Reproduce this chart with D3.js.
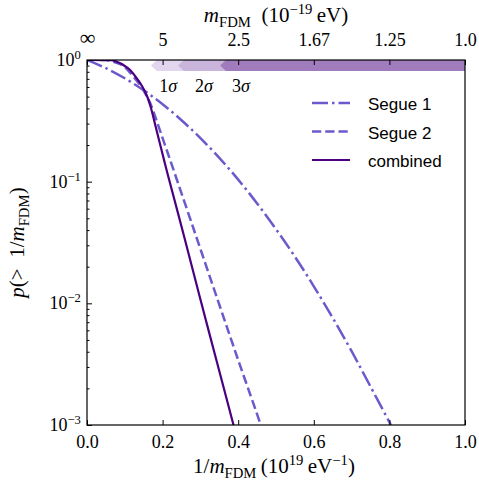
<!DOCTYPE html>
<html>
<head>
<meta charset="utf-8">
<script src="https://cdn.jsdelivr.net/npm/d3@7"></script>
<style>
  body { margin: 0; background: #fff; }
  svg { display: block; }
</style>
</head>
<body>
<svg id="chart"></svg>
<script>
// curves: x = 1/m_FDM (1e19 eV^-1), p = p(>1/m_FDM)
const combinedX = [0, 0.04, 0.069, 0.1085, 0.127, 0.1455, 0.1587, 0.1693, 0.1799, 0.1918, 0.2037, 0.2143, 0.2566, 0.2989, 0.3426, 0.3862, 0.39];
const combinedP = [1, 0.999, 0.991, 0.859, 0.739, 0.611, 0.506, 0.403, 0.298, 0.212, 0.151, 0.1125, 0.0358, 0.0111, 0.00339, 0.00104, 0.00094];

const segue2X = [0, 0.05, 0.0926, 0.119, 0.1402, 0.1561, 0.1693, 0.1812, 0.1931, 0.2063, 0.2196, 0.2817, 0.3439, 0.4008, 0.4577, 0.4616];
const segue2P = [1, 0.995, 0.910, 0.753, 0.623, 0.516, 0.427, 0.337, 0.263, 0.200, 0.152, 0.0412, 0.0111, 0.00336, 0.00104, 0.00094];

const segue1X = [0, 0.05, 0.1, 0.15, 0.2, 0.25, 0.3, 0.35, 0.4, 0.45, 0.5, 0.55, 0.6, 0.65, 0.7, 0.75, 0.804];
const segue1P = [1, 0.857, 0.708, 0.564, 0.433, 0.320, 0.228, 0.157, 0.104, 0.0662, 0.0407, 0.0242, 0.0138, 0.0076, 0.00404, 0.00207, 0.001];

const seriesNames = ["Segue 1", "Segue 2", "combined"];

// sigma bands (left edge in 1/m_FDM, extend to right edge)
const sigmaLabels = ["1\u03c3", "2\u03c3", "3\u03c3"];
const sigmaStart = [0.169, 0.241, 0.352];
const sigmaLabelX = [0.22, 0.315, 0.413];

const xTicks = [0.0, 0.2, 0.4, 0.6, 0.8, 1.0];
const topTickLabels = ["\u221e", "5", "2.5", "1.67", "1.25", "1.0"];
const yMajor = [1, 0.1, 0.01, 0.001];
const yExp = ["0", "\u22121", "\u22122", "\u22123"];

const W = 479, H = 489;
const pl = 87, pr = 465, pt = 60, pb = 425;
const serif = "'Liberation Serif', 'DejaVu Serif', serif";
const sans = "'Liberation Sans', 'DejaVu Sans', sans-serif";

const svg = d3.select("#chart").attr("width", W).attr("height", H);

const x = d3.scaleLinear().domain([0, 1]).range([pl, pr]);
const y = d3.scaleLog().domain([1e-3, 1]).range([pb, pt]);

svg.append("defs").append("clipPath").attr("id", "clip")
  .append("rect").attr("x", pl).attr("y", pt)
  .attr("width", pr - pl).attr("height", pb - pt);

// write simple math: segments {t, i (italic), s: "sub"|"sup"}
function math(sel, segs, size) {
  segs.forEach(seg => {
    const ts = sel.append("tspan").text(seg.t)
      .style("font-style", seg.i ? "italic" : "normal");
    if (seg.s === "sub") {
      ts.attr("dy", size * 0.25).style("font-size", (size * 0.7) + "px");
      sel.append("tspan").attr("dy", -size * 0.25).text("\u200a").style("font-size", "1px");
    } else if (seg.s === "sup") {
      ts.attr("dy", -size * 0.38).style("font-size", (size * 0.7) + "px");
      sel.append("tspan").attr("dy", size * 0.38).text("\u200a").style("font-size", "1px");
    } else {
      ts.style("font-size", size + "px");
    }
  });
}

// sigma arrows
const bandColors = ["#e1d6ed", "#c9b5dc", "#a07cbd"];
const bandTop = pt, bandBot = pt + 11, tip = 6;
sigmaStart.forEach((s, i) => {
  const x0 = x(s);
  const pts = [[x0, (bandTop + bandBot) / 2], [x0 + tip, bandTop], [pr, bandTop],
    [pr, bandBot], [x0 + tip, bandBot]];
  svg.append("polygon")
    .attr("points", pts.map(p => p.join(",")).join(" "))
    .attr("fill", bandColors[i]);
});

sigmaLabels.forEach((lab, i) => {
  const t = svg.append("text")
    .attr("x", x(sigmaLabelX[i]) - 11).attr("y", 92)
    .style("font-family", serif).style("font-size", "18px");
  t.append("tspan").text(lab[0]);
  t.append("tspan").text(lab[1]).style("font-style", "italic");
});

// curves
const line = d3.line().x(d => x(d[0])).y(d => y(d[1])).curve(d3.curveCatmullRom);
const series = [
  { xs: segue1X, ps: segue1P, color: "#6a5acd", dash: "16,4,2.5,4", w: 2.5 },
  { xs: segue2X, ps: segue2P, color: "#6a5acd", dash: "9.25,4", w: 2.5 },
  { xs: combinedX, ps: combinedP, color: "#4b0082", dash: null, w: 2.2 }
];
const g = svg.append("g").attr("clip-path", "url(#clip)");
series.forEach(s => {
  g.append("path")
    .datum(s.xs.map((v, i) => [v, s.ps[i]]))
    .attr("d", line)
    .attr("fill", "none")
    .attr("stroke", s.color)
    .attr("stroke-width", s.w)
    .attr("stroke-dasharray", s.dash);
});

// legend
series.forEach((s, i) => {
  const ly = 103 + i * 28.5;
  svg.append("line")
    .attr("x1", 312).attr("x2", 350).attr("y1", ly).attr("y2", ly)
    .attr("stroke", s.color).attr("stroke-width", s.w)
    .attr("stroke-dasharray", s.dash);
  svg.append("text")
    .attr("x", 368).attr("y", ly + 7)
    .style("font-family", sans).style("font-size", "17px")
    .text(seriesNames[i]);
});

// frame
svg.append("rect")
  .attr("x", pl).attr("y", pt)
  .attr("width", pr - pl).attr("height", pb - pt)
  .attr("fill", "none").attr("stroke", "#000").attr("stroke-width", 1.2);

// bottom axis
const xb = svg.append("g").attr("transform", `translate(0,${pb})`)
  .call(d3.axisBottom(x).tickValues(xTicks).tickSize(-5).tickPadding(10)
    .tickFormat(d3.format(".1f")));
xb.select(".domain").remove();
xb.selectAll("text").style("font-family", serif).style("font-size", "18px").attr("fill", "#000");

// top axis
const xt = svg.append("g").attr("transform", `translate(0,${pt})`)
  .call(d3.axisTop(x).tickValues(xTicks).tickSize(-5).tickPadding(14)
    .tickFormat((d, i) => topTickLabels[i]));
xt.select(".domain").remove();
xt.selectAll("text").style("font-family", serif).style("font-size", "18px").attr("fill", "#000");
xt.select(".tick text").style("font-size", "22px").attr("dy", "-0.05em");

// left axis: major and minor ticks
const minor = [];
[1e-3, 1e-2, 1e-1].forEach(b => { for (let k = 2; k <= 9; k++) minor.push(b * k); });
const ya = svg.append("g").attr("transform", `translate(${pl},0)`)
  .call(d3.axisLeft(y).tickValues(yMajor).tickSize(-5).tickFormat(""));
ya.select(".domain").remove();
const ym = svg.append("g").attr("transform", `translate(${pl},0)`)
  .call(d3.axisLeft(y).tickValues(minor).tickSize(-2.5).tickFormat(""));
ym.select(".domain").remove();

yMajor.forEach((v, i) => {
  const t = svg.append("text")
    .attr("x", pl - 6).attr("y", y(v) + 6)
    .attr("text-anchor", "end")
    .style("font-family", serif);
  math(t, [{ t: "10" }, { t: yExp[i], s: "sup" }], 18);
});

// axis titles
const tb = svg.append("text").attr("x", 274).attr("y", 473)
  .attr("text-anchor", "middle").style("font-family", serif);
math(tb, [{ t: "1/" }, { t: "m", i: true }, { t: "FDM", s: "sub" }, { t: "\u2009(10" },
  { t: "19", s: "sup" }, { t: "\u2009eV" }, { t: "\u22121", s: "sup" }, { t: ")" }], 21);

const tt = svg.append("text").attr("x", 276).attr("y", 22)
  .attr("text-anchor", "middle").style("font-family", serif);
math(tt, [{ t: "m", i: true }, { t: "FDM", s: "sub" }, { t: "\u2002(10" },
  { t: "\u221219", s: "sup" }, { t: "\u2009eV)" }], 21);

const tl = svg.append("text")
  .attr("transform", `translate(24,${(pt + pb) / 2}) rotate(-90)`)
  .attr("text-anchor", "middle").style("font-family", serif);
math(tl, [{ t: "p", i: true }, { t: "(>\u2002" }, { t: "1/" }, { t: "m", i: true }, { t: "FDM", s: "sub" }, { t: ")" }], 21);
</script>
</body>
</html>
